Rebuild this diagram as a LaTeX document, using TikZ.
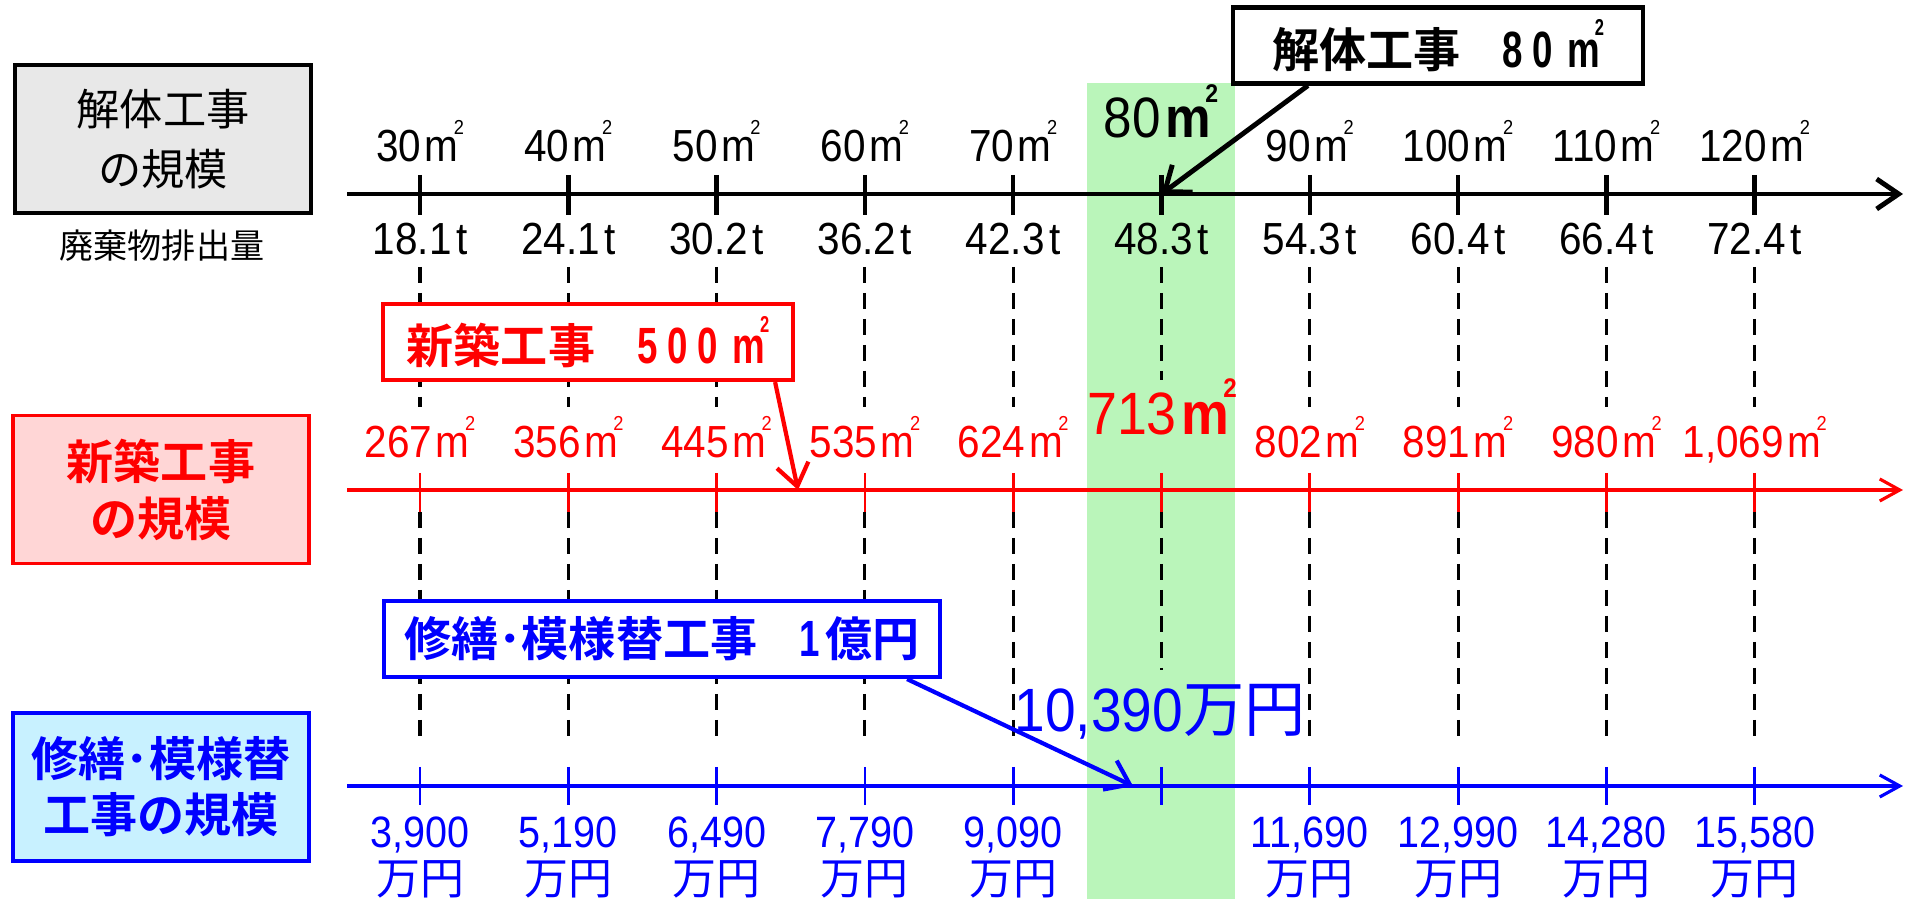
\documentclass[tikz,border=0pt]{standalone}
\usepackage{fontspec}
\usepackage{graphicx}
\setmainfont{Liberation Sans}[FakeStretch=0.9]
\newfontfamily\jp{Noto Sans CJK JP}[BoldFont={Noto Sans CJK JP Bold}]
\newfontfamily\narrowbf{Liberation Sans Bold}[FakeStretch=0.72]
\usetikzlibrary{arrows.meta}
\definecolor{bandgreen}{RGB}{186,245,186}
\definecolor{boxgray}{RGB}{232,232,232}
\definecolor{boxpink}{RGB}{255,214,214}
\definecolor{boxcyan}{RGB}{200,241,255}
\newcommand\sqm{\kern0.08em m\kern-0.1em\raisebox{0.62em}{\scalebox{0.45}{2}}}
\newcommand\sqmb{\kern0.08em\textbf{m}\kern-0.1em\raisebox{0.62em}{\scalebox{0.45}{\textbf{2}}}}
\tikzset{tick label/.style={font=\fontsize{12.8}{14}\selectfont, inner sep=0pt, anchor=base},
  big label/.style={inner sep=0pt, anchor=base},
  head box/.style={draw, line width=0.9pt, minimum width=2.96cm, minimum height=1.48cm, align=center},
  callout/.style={draw, fill=white, line width=1.2pt, minimum height=0.76cm, inner sep=0pt, font=\jp\bfseries\fontsize{13.4}{15}\selectfont},
  guide/.style={black, line width=0.9pt, dash pattern=on 0.16cm off 0.1cm}}

\begin{document}
\begin{tikzpicture}
  \useasboundingbox (0,0) rectangle (19.1,-8.99);
  \fill[bandgreen] (10.87,-0.83) rectangle (12.35,-8.99);
  % guides and ticks
  \foreach \i in {0,...,9} {
    \pgfmathsetmacro\x{4.20+1.483*\i}
    \coordinate (k\i) at (\x,-1.94);
    \ifnum\i=5
      \draw[guide] (\x,-2.67) -- (\x,-3.80);
      \draw[guide] (\x,-5.12) -- (\x,-6.70);
    \else
      \draw[guide] (\x,-2.67) -- (\x,-4.07);
      \draw[guide] (\x,-5.12) -- (\x,-7.42);
    \fi
    \draw[black, line width=1.3pt] (\x,-1.75) -- (\x,-2.15);
    \draw[red, line width=0.8pt] (\x,-4.73) -- (\x,-5.12);
    \draw[blue, line width=0.8pt] (\x,-7.67) -- (\x,-8.05);
  }
  % axes
  \draw[black, line width=1.4pt, -{Straight Barb[length=0.22cm, width=0.3cm]}] (3.47,-1.94) -- (19.03,-1.94);
  \draw[red, line width=0.9pt, -{Straight Barb[length=0.2cm, width=0.22cm]}] (3.47,-4.90) -- (19.03,-4.90);
  \draw[blue, line width=0.9pt, -{Straight Barb[length=0.2cm, width=0.22cm]}] (3.47,-7.86) -- (19.03,-7.86);
  % labels
  \foreach \i/\t/\w/\n/\y in {0/30/18.1/267/{3,900},1/40/24.1/356/{5,190},2/50/30.2/445/{6,490},
      3/60/36.2/535/{7,790},4/70/42.3/624/{9,090},6/90/54.3/802/{11,690},7/100/60.4/891/{12,990},
      8/110/66.4/980/{14,280},9/120/72.4/{1,069}/{15,580}} {
    \pgfmathsetmacro\x{4.20+1.483*\i}
    \node[tick label] (t\i) at (\x,-1.62) {\t\sqm};
    \node[tick label] (w\i) at (\x,-2.55) {\w\kern0.1em t};
    \node[tick label, red] (n\i) at (\x,-4.58) {\n\sqm};
    \node[tick label, blue, font=\fontsize{12.5}{14}\selectfont] (y\i) at (\x,-8.48) {\y};
    \node[tick label, blue, font=\jp\fontsize{12.5}{14}\selectfont] (u\i) at (\x,-8.95) {万円};
  }
  \node[tick label] (w5) at (11.615,-2.55) {48.3\kern0.1em t};
  \node[big label, font=\fontsize{16.2}{18}\selectfont] (t5) at (11.61,-1.38) {80\sqmb};
  \node[big label, red, font=\fontsize{17}{19}\selectfont] (n5) at (11.62,-4.35) {713\sqmb};
  \node[big label, blue, font=\fontsize{17.4}{19}\selectfont] (y5) at (11.60,-7.32) {10,390{\jp 万円}};
  % left boxes
  \node[head box, fill=boxgray, font=\jp\fontsize{12.3}{17}\selectfont] (hk) at (1.63,-1.39) {解体工事\\の規模};
  \node[font=\jp\fontsize{9.7}{11}\selectfont] (haiki) at (1.62,-2.46) {廃棄物排出量};
  \node[head box, draw=red, fill=boxpink, text=red, font=\jp\bfseries\fontsize{13.4}{16.2}\selectfont] (hs) at (1.61,-4.895) {新築工事\\の規模};
  \node[head box, draw=blue, fill=boxcyan, text=blue, font=\jp\bfseries\fontsize{13.4}{16}\selectfont] (hr) at (1.61,-7.87) {修繕･模様替\\工事の規模};
  % callouts
  \node[callout, minimum width=4.1cm] (ck) at (14.38,-0.455)
    {解体工事\hspace{0.42cm}{\narrowbf\fontsize{14.5}{15}\selectfont 8\hspace{0.1cm}0\hspace{0.1cm}\sqm}};
  \node[callout, draw=red, text=red, minimum width=4.1cm] (cs) at (5.88,-3.42)
    {新築工事\hspace{0.42cm}{\narrowbf\fontsize{14.5}{15}\selectfont 5\hspace{0.1cm}0\hspace{0.1cm}0\hspace{0.1cm}\sqm}};
  \node[callout, draw=blue, text=blue, minimum width=5.56cm] (cr) at (6.62,-6.39)
    {修繕･模様替工事\hspace{0.42cm}{\narrowbf\fontsize{14.5}{15}\selectfont 1}\hspace{0.06cm}億円};
  \coordinate (rs) at (7.98,-4.90);
  \coordinate (rb) at (11.33,-7.86);
  \draw[black, line width=1.4pt, -{Straight Barb[length=0.22cm, width=0.34cm]}] ([xshift=0.77cm]ck.south west) -- (k5);
  \draw[red, line width=1.2pt, -{Straight Barb[length=0.22cm, width=0.32cm]}] ([xshift=-0.2cm]cs.south east) -- (rs);
  \draw[blue, line width=1.2pt, -{Straight Barb[length=0.22cm, width=0.32cm]}] ([xshift=-0.35cm]cr.south east) -- (rb);
\end{tikzpicture}
\end{document}
